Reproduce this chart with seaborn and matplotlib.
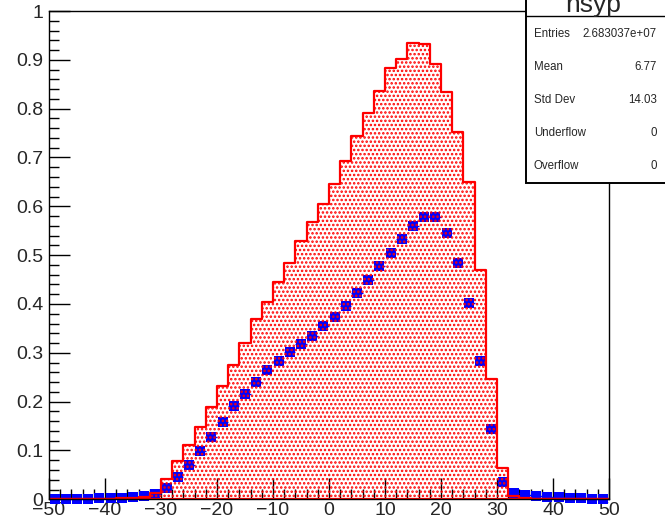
import numpy as np
import pandas as pd
import matplotlib
matplotlib.use("Agg")
import matplotlib.pyplot as plt
import seaborn as sns
from matplotlib.patches import Rectangle
from matplotlib.lines import Line2D
from matplotlib.ticker import MultipleLocator

# ---------------- data ----------------
bin_edges = [float(e) for e in np.arange(-50, 52, 2)]
bin_centers = np.arange(-49, 50, 2)

hist_vals = [0.001, 0.001, 0.001, 0.001, 0.001, 0.001, 0.002, 0.002, 0.004, 0.013,
             0.041, 0.078, 0.111, 0.149, 0.189, 0.232, 0.275, 0.320, 0.369, 0.405,
             0.444, 0.484, 0.528, 0.567, 0.605, 0.646, 0.693, 0.744, 0.792, 0.837,
             0.884, 0.902, 0.934, 0.932, 0.892, 0.835, 0.753, 0.649, 0.470, 0.247,
             0.065, 0.007, 0.002, 0.001, 0.001, 0.001, 0.001, 0.001, 0.001, 0.001]

marker_vals = [0.001, 0.001, 0.001, 0.001, 0.002, 0.002, 0.003, 0.004, 0.006, 0.011,
               0.024, 0.046, 0.071, 0.098, 0.128, 0.159, 0.191, 0.216, 0.241, 0.264,
               0.284, 0.302, 0.318, 0.335, 0.354, 0.374, 0.395, 0.422, 0.450, 0.477,
               0.504, 0.534, 0.560, 0.579, 0.579, 0.545, 0.484, 0.402, 0.284, 0.143,
               0.036, 0.013, 0.009, 0.006, 0.005, 0.004, 0.003, 0.002, 0.001, 0.001]

x_ticks = [-50, -40, -30, -20, -10, 0, 10, 20, 30, 40, 50]
x_tick_labels = ["\u221250", "\u221240", "\u221230", "\u221220", "\u221210",
                 "0", "10", "20", "30", "40", "50"]
y_ticks = [0, 0.1, 0.2, 0.3, 0.4, 0.5, 0.6, 0.7, 0.8, 0.9, 1.0]
y_tick_labels = ["0", "0.1", "0.2", "0.3", "0.4", "0.5", "0.6", "0.7", "0.8", "0.9", "1"]

hist_title = "hsyp"
stat_names = ["Entries", "Mean", "Std Dev", "Underflow", "Overflow"]
stat_values = ["2.683037e+07", "6.77", "14.03", "0", "0"]

# ---------------- style ----------------
sns.set_theme(style="white")
plt.rcParams['font.family'] = ['Liberation Sans', 'DejaVu Sans']
plt.rcParams['hatch.linewidth'] = 1.2
plt.rcParams['hatch.color'] = 'red'

W, H = 665, 523
fig = plt.figure(figsize=(W / 100, H / 100), dpi=100)
fig.patch.set_facecolor("white")
x0, x1, y0, y1 = 49, 609, 499.3, 11
ax = fig.add_axes([x0 / W, 1 - y0 / H, (x1 - x0) / W, (y0 - y1) / H])
ax.set_facecolor("white")

# blue markers (drawn first, underneath histogram dots)
ax.errorbar(bin_centers, marker_vals, xerr=1, fmt="none", ecolor="blue",
            elinewidth=1.0, zorder=2, clip_on=False)
sns.scatterplot(x=bin_centers, y=marker_vals, marker="s", s=58, color="blue",
                linewidth=0, ax=ax, zorder=2, clip_on=False)

# red histogram with dotted fill
df_h = pd.DataFrame({"x": bin_centers.astype(float), "w": hist_vals})
sns.histplot(data=df_h, x="x", weights="w", bins=bin_edges, element="step",
             fill=True, color="red", facecolor="none", edgecolor="red", hatch="....",
             linewidth=1.6, ax=ax, zorder=3)

ax.set_xlim(-50, 50)
ax.set_ylim(0, 1)
ax.set_xlabel("")
ax.set_ylabel("")
ax.set_xticks(x_ticks, x_tick_labels)
ax.set_yticks(y_ticks, y_tick_labels)
ax.xaxis.set_minor_locator(MultipleLocator(2))
ax.yaxis.set_minor_locator(MultipleLocator(0.02))
ax.tick_params(which="both", direction="in", bottom=True, left=True,
               top=False, right=False, color="black", width=1.0)
ax.tick_params(which="major", length=15)
ax.tick_params(which="minor", length=7.5)
ax.tick_params(axis="x", which="major", labelsize=14, pad=2)
ax.tick_params(axis="y", which="major", labelsize=14, pad=4)
for s in ax.spines.values():
    s.set_color("black")
    s.set_linewidth(1.0)
    s.set_visible(True)
    s.set_zorder(5)

# ---------------- stats box ----------------
bx0, by1 = 526, 183
box = Rectangle((bx0 / W, 1 - by1 / H), (W + 20 - bx0) / W, (by1 + 20) / H,
                transform=fig.transFigure, facecolor="white", edgecolor="black",
                linewidth=1.4, zorder=10, clip_on=False)
fig.add_artist(box)
fig.add_artist(Line2D([bx0 / W, 1.0], [1 - 16 / H, 1 - 16 / H], transform=fig.transFigure,
                      color="black", linewidth=1.0, zorder=11))
fig.text(593 / W, 1 - 12 / H, hist_title, ha="center", va="baseline", fontsize=19,
         zorder=12)
row_h = (by1 - 17) / len(stat_names)
for i, (n, v) in enumerate(zip(stat_names, stat_values)):
    yy = 1 - (17 + (i + 0.5) * row_h) / H
    fig.text(534 / W, yy, n, ha="left", va="center", fontsize=8.3, zorder=12)
    fig.text(657 / W, yy, v, ha="right", va="center", fontsize=8.3, zorder=12)

fig.savefig("out.png", dpi=100)
